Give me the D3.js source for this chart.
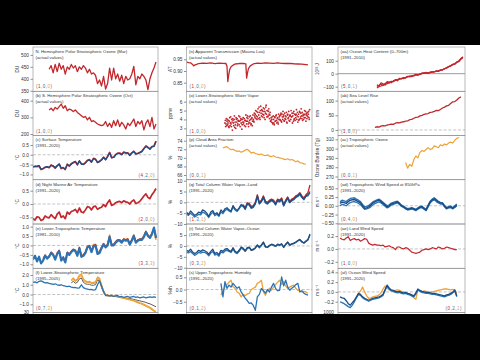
<!DOCTYPE html>
<html>
<head>
<meta charset="utf-8">
<script src="https://cdn.jsdelivr.net/npm/d3@7"></script>
<style>
body { margin: 0; background: #000; }
svg { display: block; }
text { font-family: "Liberation Sans", Arial, sans-serif; }
</style>
</head>
<body>
<script>
// ---- data ----
var ozoneNH = [440,455,425,460,430,465,440,455,420,450, 440,460,445,455,430,450,440,455,445,425,
  440,420,425,415,380,395,370,410,357,380, 445,395,445,400,420,390,415,380,410,395,
  400,420,452,375,410,400,420,410,395,355, 400,425,445,470];
var ozoneSH = [345,355,340,360,350,365,380,355,370,340, 350,345,335,345,330,320,310,300,305,285,
  300,275,280,270,260,255,250,255,275,245, 265,240,280,250,285,245,270,255,230,265,
  250,270,290,245,275,260,280,225,265,285, 245,300,230,260];
var surfRed = [-0.62,-0.58,-0.60,-0.57,-0.75,-0.70,-0.64,-0.62,-0.66,-0.52, -0.58,-0.68,-0.55,-0.48,-0.70,-0.65,-0.75,-0.48,-0.58,-0.45,
  -0.40,-0.35,-0.50,-0.32,-0.46,-0.48,-0.40,-0.28,-0.25,-0.36, -0.18,-0.22,-0.38,-0.33,-0.25,-0.12,-0.24,-0.08,0.12,-0.14,
  -0.12,0.02,0.08,0.09,0.02,0.14,0.10,0.10,-0.02,0.10, 0.18,0.05,0.08,0.12,0.18,0.32,0.45,0.38,0.30,0.42, 0.44,0.70];
var surfBlue = [-0.60,-0.60,-0.58,-0.55,-0.73,-0.72,-0.62,-0.60,-0.64,-0.54, -0.56,-0.66,-0.57,-0.46,-0.68,-0.66,-0.73,-0.50,-0.56,
  -0.48,-0.38,-0.33,-0.52,-0.30,-0.48,-0.50,-0.42,-0.30,-0.27,-0.38, -0.20,-0.24,-0.40,-0.35,-0.27,-0.14,-0.26,-0.10,0.10,-0.16,
  -0.14,0.00,0.06,0.07,0.00,0.12,0.08,0.08,-0.04,0.08, 0.16,0.03,0.06,0.10,0.16,0.30,0.43,0.36,0.28,0.40, 0.42,0.66];
var nmat = [-0.55,-0.60,-0.48,-0.50,-0.62,-0.58,-0.45,-0.50,-0.52,-0.40, -0.48,-0.55,-0.38,-0.30,-0.50,-0.45,-0.55,-0.30,-0.38,-0.28,
  -0.25,-0.20,-0.32,-0.15,-0.30,-0.33,-0.22,-0.10,-0.12,-0.22, -0.10,-0.08,-0.20,-0.15,-0.12,-0.02,-0.10,0.05,0.15,-0.05,
  -0.02,0.05,0.08,0.10,0.05,0.12,0.08,0.06,0.00,0.10, 0.15,0.02,0.05,0.10,0.20,0.30,0.38,0.25,0.20,0.35, 0.45,0.58];
var lttBlue = [-0.75,-0.55,-0.85,-0.60,-0.95,-0.80,-0.55,-0.70,-0.60,-0.40, -0.50,-0.75,-0.45,-0.30,-0.80,-0.65,-0.90,-0.40,-0.50,-0.35,
  -0.25,-0.30,-0.55,-0.15,-0.60,-0.55,-0.40,-0.10,-0.05,-0.35, -0.05,0.00,-0.45,-0.40,-0.15,0.05,-0.10,0.00,0.45,0.00,
  0.00,0.15,0.25,0.25,0.15,0.30,0.25,0.30,0.05,0.25, 0.50,0.15,0.25,0.30,0.30,0.45,0.70,0.50,0.40,0.60, 0.95,0.40];
var lttRed = [-0.70,-0.50,-0.65,-0.55,-0.35, -0.45,-0.70,-0.40,-0.25,-0.75,-0.60,-0.85,-0.35,-0.45,-0.30,
  -0.20,-0.25,-0.50,-0.10,-0.55,-0.50,-0.35,-0.05,0.00,-0.30, 0.00,0.05,-0.40,-0.35,-0.10,0.10,-0.05,0.05,0.50,0.05,
  0.05,0.20,0.30,0.30,0.20,0.35,0.30,0.35,0.10,0.30, 0.55,0.20,0.30,0.35,0.35,0.50,0.75,0.55,0.45,0.65, 0.90,0.45];
var lttOrange = [-0.30,-0.20,-0.25,-0.50,-0.10,-0.55,-0.50,-0.35,-0.05,0.00,-0.30,
  0.05,0.05,-0.35,-0.30,-0.10,0.10,-0.05,0.05,0.55,0.05, 0.05,0.20,0.30,0.30,0.20,0.35,0.30,0.35,0.05,0.30,
  0.55,0.20,0.25,0.30,0.35,0.50,0.75,0.55,0.45,0.65, 0.85,0.30];
var lstBlue = [1.25,1.30,1.20,1.35,1.40,1.30,1.20,1.22,1.15,1.10, 1.05,1.10,1.00,0.95,1.00,0.90,0.85,0.80,0.85,0.75,
  0.70,0.72,0.65,0.68,1.00,0.70,0.60,0.55,0.50,0.52, 0.45,0.50,1.00,1.40,0.90,0.30,-0.10,-0.05,-0.15,-0.10,
  -0.20,-0.15,-0.10,-0.25,-0.20,-0.30,-0.25,-0.20,-0.30,-0.25, -0.20,-0.30,-0.25,-0.35,-0.30,-0.25,-0.35,-0.30,-0.25,-0.30, -0.25,-0.30];
var lstOrange = [1.50,1.70,1.45,1.60,2.00,2.10,1.60,1.40,1.30,1.35,1.20,
  1.25,1.30,1.80,1.70,1.00,0.40,0.00,-0.05,-0.10,-0.05, -0.15,-0.10,-0.20,-0.25,-0.30,-0.35,-0.40,-0.45,-0.50,-0.55,
  -0.60,-0.70,-0.75,-0.85,-0.90,-1.00,-1.10,-1.20,-1.30,-1.45, -1.60,-1.75];
var lstOrange2 = [1.40,1.55,1.35,1.50,1.85,1.95,1.50,1.30,1.25,1.25,1.15,
  1.15,1.20,1.65,1.55,0.90,0.30,-0.05,-0.10,-0.15,-0.10, -0.20,-0.15,-0.25,-0.30,-0.35,-0.40,-0.45,-0.50,-0.55,-0.60,
  -0.65,-0.75,-0.85,-0.90,-1.00,-1.10,-1.20,-1.30,-1.40,-1.55, -1.70,-1.85];
var lstGray = [1.20,1.35,1.15,1.25,1.60,1.70,1.25,1.10,1.05,1.05,0.95,
  0.95,1.00,1.50,1.40,0.70,0.20,-0.10,-0.15,-0.15,-0.15, -0.20,-0.20,-0.25,-0.30,-0.30,-0.35,-0.35,-0.40,-0.40,-0.45,
  -0.50,-0.55,-0.60,-0.65,-0.70,-0.75,-0.80,-0.90,-0.95,-1.05, -1.15,-1.25];

var transYears = [1960,1961,1962,1963,1963.5,1964,1965,1966,1968,1970,1972,1974,1976,1978,1979.5,1980,1980.4,1980.8,1981.3,1982,1983,1984,
  1986,1988,1989.3,1989.7,1990.1,1990.6,1991.5,1993,1995,1997,1999,2001,2003,2005,2007,2009,2011,2013,2015,2017,2019,2020];
var transVals = [0.938,0.936,0.935,0.928,0.922,0.925,0.928,0.932,0.934,0.933,0.935,0.932,0.934,0.933,0.932,0.920,0.855,0.880,0.905,0.918,0.925,0.930,
  0.932,0.933,0.930,0.870,0.890,0.910,0.922,0.930,0.934,0.933,0.935,0.934,0.933,0.935,0.933,0.932,0.933,0.931,0.930,0.929,0.927,0.926];
var wvVals = [3.6,3.2,4.1, 3.8,3.4,3.9, 3.1,4.2,3.6, 3.5,4.0,2.8, 3.9,3.3,4.4, 3.7,3.0,4.0, 4.1,3.5,3.8, 3.4,4.3,3.9,
  3.6,2.9,4.0, 4.2,3.7,3.3, 3.9,4.5,3.5, 3.8,4.1,3.2, 4.3,3.6,4.0, 3.5,4.2,3.8, 4.0,3.7,4.4, 4.6,4.1,4.9,
  4.3,5.2,4.5, 4.8,4.0,5.5, 4.4,5.0,4.6, 5.3,4.2,4.9, 4.7,5.6,4.3, 5.0,4.4,5.2, 4.1,4.8,3.9, 3.7,4.3,3.5,
  4.0,3.4,4.2, 3.8,4.5,3.6, 4.2,3.5,4.0, 4.4,3.9,4.7, 3.7,4.3,4.9, 4.5,3.8,4.1, 4.0,4.8,3.6, 4.6,4.2,3.9,
  3.8,4.4,5.0, 4.3,3.6,4.7, 4.9,4.1,3.9, 4.2,5.1,4.4, 3.7,4.6,4.0, 4.8,4.3,5.2, 4.1,3.9,4.6, 4.5,5.0,4.2,
  3.8,4.7,4.4, 4.3,4.9,4.0];
var wvValsB = [3.9,3.5,3.3, 4.0,3.6,3.2, 3.8,3.3,4.3, 3.2,3.7,4.1, 3.6,4.0,3.1, 3.4,4.2,3.7, 3.3,3.9,4.4, 3.8,3.2,4.1,
  4.0,3.4,3.7, 3.5,4.1,3.9, 3.2,3.8,4.2, 4.4,3.5,3.7, 3.9,4.4,3.4, 4.1,3.3,4.5, 3.8,4.7,4.2, 5.0,4.4,4.0,
  4.8,4.1,5.4, 4.2,5.0,4.7, 5.1,4.3,4.9, 4.5,5.2,4.0, 5.4,4.6,5.0, 4.3,4.9,4.6, 4.5,3.8,4.2, 4.0,3.6,4.4,
  3.6,4.3,3.8, 4.4,3.9,4.1, 3.7,4.6,4.3, 4.0,4.5,3.8, 4.6,4.0,4.3, 3.9,4.7,4.4, 4.3,3.7,4.5, 4.1,4.9,4.4,
  4.5,4.0,4.3, 4.7,4.4,3.8, 4.0,4.6,4.5, 4.6,4.0,4.8, 4.3,3.9,4.9, 4.1,4.7,4.4, 4.8,4.4,4.0, 4.2,4.6,4.9,
  4.5,4.1,4.8, 4.6,4.2,5.1];
var cloud = [72.3,72.5,72.6,72.2,71.9,72.0,71.7,71.5,71.6,71.3, 71.5,71.8,72.0,71.6,71.1,71.3,71.0,70.9,70.75,70.9,
  70.6,70.5,70.7,70.4,70.3,70.5,70.2,70.1,70.0,69.9, 69.7,69.6,69.8,69.5,69.6,69.4,69.1,69.3,68.9,68.8, 68.6,68.5];
var tcwvLand1 = [-4.5,-5.5,-4.0,-5.0,-6.0,-5.5,-4.5,-5.0,-3.5,-4.0, -5.0,-6.5,-4.5,-3.8,-5.5,-4.8,-6.0,-3.5,-4.5,-3.0,
  -2.5,-3.5,-4.0,-1.5,-3.0,-3.8,-2.5,-1.0,-1.5,-3.0, -0.5,-1.0,-2.5,-2.0,-0.5,3.0,-0.5,0.5,2.5,0.0,
  -0.5,0.5,1.0,0.5,-1.0,1.0,0.5,1.5,-1.5,0.5, 2.0,0.0,1.0,1.5,2.5,3.0,4.0,2.5,1.5,3.0, 3.5,5.0];
var tcwvLand2 = [-5.5,-6.0,-5.0,-5.8,-6.8,-6.2,-5.5,-5.8,-4.5,-5.0, -5.8,-7.0,-5.5,-4.5,-6.2,-5.5,-6.5,-4.5,-5.2,-3.8,
  -3.2,-4.0,-4.5,-2.2,-3.5,-4.2,-3.0,-1.5,-2.0,-3.3, -1.0,-1.3,-2.8,-2.3,-0.8,2.5,-0.8,0.2,2.0,-0.3,
  -0.8,0.2,0.7,0.2,-1.2,0.7,0.2,1.2,-1.7,0.2, 1.7,-0.2,0.7,1.2,2.2,2.7,3.6,2.2,1.2,2.7, 3.0,4.5];
var tcwvLandRed = [-1.0,-2.5, -0.3,-0.5,-2.0,-1.5,0.0,3.5,0.0,1.0,3.0,0.5, 0.0,1.0,1.5,1.0,-0.5,1.5,1.0,2.0,-1.0,1.0,
  2.5,0.5,1.5,2.0,3.0,3.5,4.5,3.0,2.0,3.5, 4.5,8.0];
var tcwvLandOrange = [2.5,-0.3,0.8,2.7,0.3, -0.2,0.8,1.3,0.8,-0.7,1.3,0.8,1.8,-1.2,0.8, 2.3,0.3,1.3,1.8,2.8,3.3,4.2,2.8,1.8,3.3, 4.0];
var tcwvOcean1 = [-2.0,-2.5,-1.5,-2.8,-3.5,-3.0,-2.0,-2.5,-1.8,-2.2, -2.8,-3.8,-2.5,-1.5,-3.5,-3.0,-4.0,-2.0,-2.5,-1.5,
  -1.2,-2.0,-2.5,-0.8,-2.5,-3.0,-2.0,-0.5,-1.0,-2.2, -0.8,-0.5,-1.8,-1.5,-0.8,0.5,-0.5,0.5,1.8,-0.3,
  -0.5,0.3,0.8,0.5,0.0,0.8,0.5,1.0,-0.5,0.8, 1.8,0.5,1.0,1.3,1.8,2.5,3.0,2.0,1.5,2.3, 3.0,5.5];
var tcwvOcean2 = [-3.0,-3.2,-2.5,-3.5,-4.3,-3.8,-3.0,-3.3,-2.8,-3.0, -3.5,-4.5,-3.2,-2.5,-4.2,-3.8,-4.7,-2.8,-3.2,-2.3,
  -2.0,-2.5,-3.0,-1.5,-3.0,-3.5,-2.5,-1.0,-1.5,-2.5, -1.2,-0.8,-2.0,-1.8,-1.0,0.2,-0.8,0.2,1.5,-0.5,
  -0.7,0.1,0.6,0.3,-0.2,0.6,0.3,0.8,-0.7,0.6, 1.6,0.3,0.8,1.1,1.6,2.3,2.8,1.8,1.3,2.1, 2.8,5.0];
var tcwvOceanOrange = [-1.8,-1.5,-2.2,-2.8,-1.0,-2.8,-3.3,-2.4,-0.9,-1.3,-2.5,
  -1.0,-0.8,-2.1,-1.8,-1.0,0.3,-0.7,0.3,1.6,-0.5, -0.7,0.1,0.6,0.3,-0.2,0.6,0.3,0.8,-0.7,0.6,
  1.6,0.3,0.8,1.1,1.6,2.3,2.8,1.8,1.3,2.1, 2.8];
var uthBlue = [0.25,-0.30,0.32,0.05,0.18,0.10,0.25,0.15,0.05,0.11, -0.10,-0.23,-0.35,-0.45,-0.57,-0.55,-0.65,-0.85,-0.30,-0.20,
  0.04,-0.05,-0.15,0.00,-0.10,0.10,0.25,0.05,-0.05,-0.03, 0.52,0.15,0.38,0.10,-0.03,0.05,0.11,0.20,0.25,-0.10, -0.05,-0.15,-0.20,-0.23];
var uthOrange = [-0.23,-0.05,0.11,0.20,0.30,0.38,0.11,0.05,-0.10,-0.15, -0.30,-0.20,-0.25,-0.18,-0.16,0.00,0.05,0.10,0.25,0.30,
  0.38,-0.10,-0.23,-0.05,0.05,-0.03,0.10,0.20,0.30,0.38, 0.20,0.32,0.15,0.04,0.10,0.15,0.18,0.05,-0.03,-0.05, -0.10,-0.08,-0.10,-0.15];

var ohc1 = [-98,-90,-80,-92,-75,-70,-62,-70,-55,-48,-50, -40,-35,-38,-30,-25,-20,-22,-15,-10,-12,
  -5,0,5,8,2,10,12,15,18,20, 25,30,38,45,52,60,68,75,85,95, 110,125];
var ohc2 = [-110,-100,-95,-85,-80,-78,-70,-65,-58,-52,-45, -42,-38,-32,-28,-22,-18,-18,-12,-8,-8,
  -2,2,6,5,5,12,14,15,20,22, 27,32,36,45,55,62,70,78,88,100, 115,130];
var ohc3 = [-85,-95,-70,-78,-88,-60,-72,-58,-62,-45,-55, -35,-40,-30,-34,-20,-25,-15,-18,-5,-10,
  -3,4,2,10,5,8,15,12,22,18, 28,28,40,42,55,58,72,72,90,92, 118,122];
var seaLevel = [9,11,10,13,15,14,17,18,20,19, 23,25,24,27,28,30,31,35,36,40, 43,44,48,50,53,55,56,60,61,63,
  67,66,70,75,78,82,84,90,96,97, 102,109,113];
var tropO3 = [285,279,283,281,288,292,290,296,298,297, 299,301,299,300,303,302,301,304,303,305, 304,306,307,306,309,311,312];
var w850a = [0.07,0.11,0.09,0.07,0.12,0.16,0.17,0.18,0.15,0.12, 0.08,0.00,-0.07,-0.06,-0.03,0.02,0.08,0.11,0.14,0.16,
  0.12,0.07,0.02,-0.03,0.00,0.05,0.07,0.09,0.11,0.06, 0.00,-0.03,-0.07,-0.10,-0.09,-0.07,-0.09,-0.12,-0.08,-0.04,
  -0.03,-0.08,-0.12,0.00,0.11,0.17,0.20,0.15,0.11,0.08, 0.07,-0.01,-0.07,-0.04,-0.03,-0.07,-0.03,0.02];
var w850b = [0.00,0.04,0.03,0.00,0.05,0.09,0.11,0.12,0.10,0.07, 0.03,-0.04,-0.10,-0.09,-0.07,-0.03,0.03,0.06,0.09,0.11,
  0.08,0.04,-0.01,-0.06,-0.03,0.02,0.04,0.06,0.08,0.04, -0.02,-0.05,-0.09,-0.12,-0.11,-0.09,-0.11,-0.14,-0.10,-0.06,
  -0.05,-0.10,-0.14,-0.03,0.08,0.14,0.17,0.12,0.08,0.05, 0.05,-0.03,-0.09,-0.06,-0.05,-0.09,-0.05,0.00];
var w850c = [0.12,0.16,0.14,0.12,0.17,0.21,0.22,0.23,0.19,0.16, 0.12,0.04,-0.03,-0.02,0.01,0.06,0.11,0.14,0.17,0.19,
  0.15,0.10,0.05,0.00,0.03,0.08,0.10,0.12,0.13,0.08, 0.02,-0.01,-0.05,-0.08,-0.07,-0.05,-0.07,-0.10,-0.06,-0.02,
  -0.01,-0.06,-0.10,0.02,0.13,0.19,0.23,0.18,0.13,0.10, 0.09,0.01,-0.05,-0.02,-0.01,-0.05,0.00,0.05];
var landWind = [0.17,0.15,0.14,0.17,0.19,0.13,0.15,0.16,0.14,0.15, 0.12,0.14,0.16,0.15,0.09,0.07,0.06,0.07,0.06,0.06,
  0.05,0.06,0.03,0.04,0.05,0.03,0.02,-0.01,0.03,0.03, 0.01,0.00,0.02,0.01,-0.02,-0.05,-0.06,-0.07,-0.06,-0.05,
  -0.02,-0.01,0.00,-0.01,0.00,0.02,0.01,0.00,0.03,0.02, 0.00,0.01,0.03,0.02,0.01,0.00,-0.01,-0.01];
var oceanWindA = [-0.10,-0.12,-0.13,-0.18,-0.24,-0.27,-0.22,-0.17,-0.10,-0.03, -0.05,-0.10,-0.13,-0.15,-0.17,-0.15,-0.13,-0.12,-0.11,-0.10,
  -0.08,-0.05,0.05,0.14,0.08,0.04,0.03,0.01,0.00,0.01, -0.01,-0.02,-0.01,-0.03,-0.04,-0.06,-0.08,-0.02,0.06,0.03,
  0.01,0.00,-0.01,-0.01,-0.02,-0.03,-0.03,-0.04,-0.05,-0.06, -0.07,-0.08,-0.06,-0.05,-0.03,0.00,0.04,-0.08];
var oceanWindB = [-0.20,-0.22,-0.24,-0.27,-0.30,-0.32,-0.27,-0.20,-0.12,-0.05, -0.07,-0.12,-0.15,-0.17,-0.19,-0.17,-0.15,-0.14,-0.13,-0.12,
  -0.10,-0.07,0.03,0.12,0.06,0.02,0.01,-0.01,-0.02,-0.01, -0.03,-0.04,-0.03,-0.05,-0.06,-0.08,-0.10,-0.04,0.04,0.01,
  -0.01,-0.02,-0.03,-0.03,-0.04,-0.05,-0.05,-0.06,-0.07,-0.08, -0.09,-0.10,-0.08,-0.07,-0.05,-0.02,0.02,-0.10];
var oceanWindOrange = [-0.03,0.02,0.10,0.00,-0.08,-0.13,-0.12,-0.10,-0.09,-0.08, -0.06,-0.02,0.06,0.12,0.08,0.04,0.03,0.02,0.03,0.04,
  0.03,0.01,0.00,-0.02,-0.03,-0.05,-0.08,-0.12,-0.15,0.05, 0.02,0.00,0.02,0.01,0.00,-0.01,0.00,0.01,0.02,0.03,
  0.04,0.05,0.06,0.06,0.05,0.04,0.05,0.04,-0.02];

// ---- styling / layout ----
var RED = "#c1272d", BLUE = "#2b73b3", NAVY = "#1c4e86", ORANGE = "#eda237", DARK = "#5a5a5a";
var W = 480, H = 360;
var colX = [33, 186.5, 338], colW = [125, 125.5, 127];
var top0 = 47, ph = 44.25;
var unitX = [18.5, 171.5, 319];

function pts(start, vals, step) { step = step || 1; return vals.map(function (v, i) { return [start + i * step, v]; }); }

var panels = [
  {c:0, r:0, title:["N. Hemisphere Polar Stratospheric Ozone (Mar)", "(actual values)"], unit:"DU", dom:[348,533], ticks:[350,400,450,500], fmt:"d", counts:[1,0,0], cpos:"l",
    lines:[{d:pts(1968, ozoneNH), c:RED, w:1.3}]},
  {c:0, r:1, title:["(b) S. Hemisphere Polar Stratospheric Ozone (Oct)", "(actual values)"], unit:"DU", dom:[191,457], ticks:[200,300,400], fmt:"d", counts:[1,0,0], cpos:"l",
    lines:[{d:pts(1968, ozoneSH), c:RED, w:1.3}]},
  {c:0, r:2, title:["(c) Surface Temperature", "(1991\u20132020)"], unit:"\u00b0C", dom:[-1.27,0.98], ticks:[-1,-0.5,0,0.5], fmt:".1f", zero:"dash", counts:[4,2,0], cpos:"r",
    lines:[{d:pts(1960, surfRed), c:RED, w:1.7}, {d:pts(1960, surfBlue), c:NAVY, w:1.2}]},
  {c:0, r:3, title:["(d) Night Marine Air Temperature", "(1991\u20132020)"], unit:"\u00b0C", dom:[-0.75,0.91], ticks:[-0.5,0,0.5], fmt:".1f", zero:"dash", counts:[2,0,0], cpos:"r",
    lines:[{d:pts(1960, nmat), c:RED, w:1.7}]},
  {c:0, r:4, title:["(e) Lower-Tropospheric Temperature", "(1981\u20132010)"], unit:"\u00b0C", dom:[-1.21,1.14], ticks:[-1,-0.5,0,0.5,1], fmt:".1f", zero:"dash", counts:[3,3,3], cpos:"r",
    lines:[{d:pts(1979, lttOrange), c:ORANGE, w:1.6}, {d:pts(1965, lttRed), c:RED, w:1.3}, {d:pts(1960, lttBlue), c:BLUE, w:2.2}]},
  {c:0, r:5, title:["(f) Lower-Stratospheric Temperature", "(1995\u20132005)"], unit:"\u00b0C", dom:[-1.84,2.69], ticks:[-1,0,1,2], fmt:".1f", zero:"dash", counts:[0,7,3], cpos:"l",
    lines:[{d:pts(1979, lstGray), c:DARK, w:1}, {d:pts(1979, lstOrange), c:ORANGE, w:1.2}, {d:pts(1979, lstOrange2), c:ORANGE, w:1.2}, {d:pts(1960, lstBlue), c:BLUE, w:1.3}]},

  {c:1, r:0, title:["(n) Apparent Transmission (Mauna Loa)", "(actual values)"], unit:"AT", dom:[0.8135,1.0026], ticks:[0.85,0.90,0.95], fmt:".2f", counts:[1,0,0], cpos:"l",
    lines:[{d:d3.zip(transYears, transVals), c:RED, w:1.3}]},
  {c:1, r:1, title:["(o) Lower-Stratospheric Water Vapor", "(actual values)"], unit:"ppmv", dom:[2.19,7.18], ticks:[3,4,5,6], fmt:"d", counts:[1,0,0], cpos:"l",
    dots:[{d:pts(1979, wvVals, 1 / 3), c:RED}, {d:pts(1979.17, wvValsB, 1 / 3), c:RED}]},
  {c:1, r:2, title:["(p) Cloud Area Fraction", "(actual values)"], unit:"%", dom:[64.9,75.2], ticks:[66,68,70,72,74], fmt:"d", counts:[0,0,1], cpos:"l",
    lines:[{d:pts(1978, cloud), c:ORANGE, w:1.2}]},
  {c:1, r:3, title:["(q) Total Column Water Vapor\u2013Land", "(1991\u20132020)"], unit:"%", dom:[-10,10.44], ticks:[-10,-5,0,5,10], fmt:"d", zero:"dash", counts:[1,3,1], cpos:"l",
    lines:[{d:pts(1995, tcwvLandOrange), c:ORANGE, w:1.3}, {d:pts(1988, tcwvLandRed), c:RED, w:1.3}, {d:pts(1960, tcwvLand2), c:BLUE, w:1.3}, {d:pts(1960, tcwvLand1), c:NAVY, w:1.3}]},
  {c:1, r:4, title:["(r) Total Column Water Vapor\u2013Ocean", "(1991\u20132020)"], unit:"%", dom:[-10.25,10.1], ticks:[-10,-5,0,5], fmt:"d", zero:"dash", counts:[0,3,2], cpos:"l",
    lines:[{d:pts(1979, tcwvOceanOrange), c:ORANGE, w:1.3}, {d:pts(1960, tcwvOcean2), c:BLUE, w:1.3}, {d:pts(1960, tcwvOcean1), c:NAVY, w:1.3}]},
  {c:1, r:5, title:["(s) Upper-Tropospheric Humidity", "(1991\u20132020)"], unit:"%rh", dom:[-0.94,0.87], ticks:[-0.5,0,0.5], fmt:".1f", zero:"dash", counts:[0,1,2], cpos:"l",
    lines:[{d:pts(1977, uthOrange), c:ORANGE, w:1.3}, {d:pts(1977, uthBlue), c:BLUE, w:1.3}]},

  {c:2, r:0, title:["(aa) Ocean Heat Content (0\u2013700m)", "(1991\u20132010)"], unit:"10\u00b2\u00b2 J", dom:[-135,205], ticks:[-100,0,100], fmt:"d", zero:"solid", counts:[5,0,1], cpos:"l",
    lines:[{d:pts(1979, ohc3), c:RED, w:1.2}, {d:pts(1979, ohc2), c:RED, w:1.2}, {d:pts(1979, ohc1), c:RED, w:1.2}]},
  {c:2, r:1, title:["(ab) Sea Level Rise", "(actual values)"], unit:"mm", dom:[-18.8,132], ticks:[0,50,100], fmt:"d", zero:"dash", counts:[1,0,0], cpos:"l",
    lines:[{d:pts(1978, seaLevel), c:RED, w:1.3}]},
  {c:2, r:2, title:["(ac) Tropospheric Ozone", "(actual values)"], unit:"Ozone Burden (Tg)", dom:[266.5,314.1], ticks:[270,280,290,300,310], fmt:"d", counts:[0,0,1], cpos:"l",
    lines:[{d:pts(1993, tropO3), c:ORANGE, w:1.2}]},
  {c:2, r:3, title:["(ad) Tropospheric Wind Speed at 850hPa", "(1991\u20132020)"], unit:"m s\u207b\u00b9", dom:[-0.52,0.744], ticks:[-0.5,-0.25,0,0.25,0.5], fmt:".2f", zero:"dash", counts:[0,4,0], cpos:"l",
    lines:[{d:pts(1961, w850b), c:BLUE, w:1.3}, {d:pts(1961, w850c), c:BLUE, w:1.3}, {d:pts(1961, w850a), c:NAVY, w:1.5}]},
  {c:2, r:4, title:["(ae) Land Wind Speed", "(1991\u20132020)"], unit:"m s\u207b\u00b9", dom:[-0.30,0.387], ticks:[-0.2,0,0.2], fmt:".1f", zero:"dash", counts:[1,0,0], cpos:"l",
    lines:[{d:pts(1961, landWind), c:RED, w:1.2}]},
  {c:2, r:5, title:["(af) Ocean Wind Speed", "(1991\u20132020)"], unit:"m s\u207b\u00b9", dom:[-0.42,0.483], ticks:[-0.2,0,0.2,0.4], fmt:".1f", zero:"dash", counts:[0,2,1], cpos:"r",
    lines:[{d:pts(1970, oceanWindOrange), c:ORANGE, w:1.3}, {d:pts(1961, oceanWindB), c:BLUE, w:1.3}, {d:pts(1961, oceanWindA), c:NAVY, w:1.3}]}
];

var svg = d3.select("body").append("svg").attr("width", W).attr("height", H);
svg.append("rect").attr("width", W).attr("height", H).attr("fill", "#000");
svg.append("rect").attr("y", 45).attr("width", W).attr("height", 270).attr("fill", "#fff");

panels.forEach(function (p, k) {
  var x0 = colX[p.c], w = colW[p.c], y0 = top0 + p.r * ph;
  var x = d3.scaleLinear().domain([1960, 2022]).range([x0, x0 + w]);
  var y = d3.scaleLinear().domain(p.dom).range([y0 + ph, y0]);
  var g = svg.append("g");

  g.append("clipPath").attr("id", "clip" + k)
    .append("rect").attr("x", x0).attr("y", y0).attr("width", w).attr("height", ph);

  var ax = g.append("g").attr("transform", "translate(" + x0 + ",0)")
    .call(d3.axisLeft(y).tickValues(p.ticks).tickSize(2.5).tickPadding(1.5).tickFormat(d3.format(p.fmt)));
  ax.select(".domain").remove();
  ax.selectAll("line").attr("stroke", "#444").attr("stroke-width", 0.6);
  ax.selectAll("text").attr("font-size", 4.8).attr("fill", "#333");

  var data = g.append("g").attr("clip-path", "url(#clip" + k + ")");
  if (p.zero) {
    data.append("line").attr("x1", x0).attr("x2", x0 + w).attr("y1", y(0)).attr("y2", y(0))
      .attr("stroke", "#9a9a9a").attr("stroke-width", p.zero == "solid" ? 1 : 0.6)
      .attr("stroke-dasharray", p.zero == "solid" ? null : "3,1.8");
  }
  var line = d3.line().x(function (d) { return x(d[0]); }).y(function (d) { return y(d[1]); });
  (p.lines || []).forEach(function (s) {
    data.append("path").attr("d", line(s.d)).attr("fill", "none")
      .attr("stroke", s.c).attr("stroke-width", s.w).attr("stroke-linejoin", "round");
  });
  (p.dots || []).forEach(function (s) {
    data.append("g").selectAll("circle").data(s.d).enter().append("circle")
      .attr("cx", function (d) { return x(d[0]); }).attr("cy", function (d) { return y(d[1]); })
      .attr("r", 0.9).attr("fill", s.c);
  });

  g.append("rect").attr("x", x0).attr("y", y0).attr("width", w).attr("height", ph)
    .attr("fill", "none").attr("stroke", "#8a8a8a").attr("stroke-width", 0.6);

  p.title.forEach(function (t, i) {
    g.append("text").attr("x", x0 + 2.5).attr("y", y0 + 5.8 + i * 6)
      .attr("font-size", 4.3).attr("fill", "#333").text(t);
  });

  g.append("text").attr("transform", "translate(" + unitX[p.c] + "," + (y0 + ph / 2) + ") rotate(-90)")
    .attr("text-anchor", "middle").attr("font-size", 4.6).attr("fill", "#333").text(p.unit);

  var ct = g.append("text").attr("font-size", 4.5).attr("y", y0 + ph - 3)
    .attr("x", p.cpos == "l" ? x0 + 3 : x0 + w - 3)
    .attr("text-anchor", p.cpos == "l" ? "start" : "end").attr("letter-spacing", 0.5);
  var cc = [RED, BLUE, ORANGE];
  ct.append("tspan").attr("fill", "#666").text("(");
  p.counts.forEach(function (n, i) {
    ct.append("tspan").attr("fill", cc[i]).text(n);
    ct.append("tspan").attr("fill", "#666").text(i < 2 ? "," : ")");
  });
});

// top edge of the next row, mostly hidden
var nextTop = top0 + 6 * ph;
[0, 1, 2].forEach(function (c) {
  svg.append("rect").attr("x", colX[c]).attr("y", nextTop).attr("width", colW[c]).attr("height", 20)
    .attr("fill", "none").attr("stroke", "#8a8a8a").attr("stroke-width", 0.6);
});
var nextLabels = [[0, "30"], [2, "1000"]];
nextLabels.forEach(function (d) {
  svg.append("text").attr("x", colX[d[0]] - 4).attr("y", nextTop + 1.7).attr("text-anchor", "end")
    .attr("font-size", 4.8).attr("fill", "#333").text(d[1]);
});

svg.append("rect").attr("y", 314).attr("width", W).attr("height", H - 314).attr("fill", "#000");
</script>
</body>
</html>
